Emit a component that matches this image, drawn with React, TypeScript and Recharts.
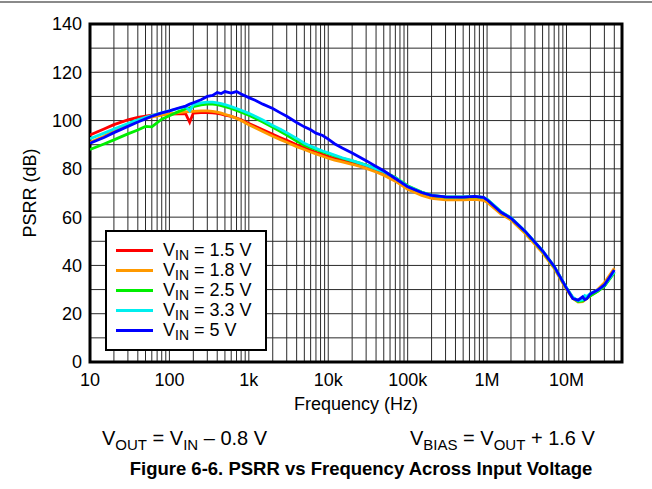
import React from 'react';
import { LineChart, Line, XAxis, YAxis, CartesianGrid, ReferenceArea } from 'recharts';

// frequency points (Hz) shared by every curve
const FREQ = [
  10, 15, 20, 30, 40, 50, 60, 80, 100, 130, 160, 180, 200, 250, 300, 350, 400, 450, 500, 600,
  700, 800, 1000, 1200, 1500, 2000, 2500, 3000, 4000, 5000, 6000, 7000, 8500, 10e3, 12e3, 15e3,
  20e3, 25e3, 30e3, 40e3, 50e3, 70e3, 100e3, 150e3, 200e3, 300e3, 500e3, 700e3, 900e3, 1e6,
  1.5e6, 2e6, 3e6, 5e6, 7e6, 10e6, 12e6, 14e6, 16e6, 17e6, 18e6, 20e6, 25e6, 30e6, 40e6,
];

// PSRR (dB)
const VIN_1V5 = [
  94, 96.5, 98.3, 100.3, 101.3, 101.8, 102.2, 102.5, 102.7, 102.8, 102.9, 99.3, 103.1, 103.3, 103.3, 103.2, 103, 102.7, 102.3, 101.7,
  101, 100.3, 98.8, 97.6, 96.2, 94.3, 92.9, 91.8, 90, 88.7, 87.7, 86.9, 85.9, 85.1, 84.3, 83.5,
  82.5, 81.6, 80.8, 79.3, 78, 75.5, 72.2, 69.6, 68.4, 67.7, 67.8, 68, 67.6, 66.8,
  61.8, 59.3, 53.8, 45.6, 39.2, 30.4, 26.6, 25.3, 25.6, 26.2, 26.5, 27.5, 29.5, 31.6, 37.5,
];
const VIN_1V8 = [
  91, 93.5, 95.8, 98.5, 100, 100.9, 101.5, 102.3, 102.8, 103.3, 103.6, 103.7, 103.8, 104, 104, 103.8, 103.5, 103.1, 102.6, 101.8,
  100.9, 100, 98.3, 97, 95.5, 93.5, 92.1, 91, 89.2, 88, 87, 86.2, 85.2, 84.4, 83.6, 82.9,
  81.9, 81, 80.2, 78.7, 77.4, 74.9, 71.5, 69, 67.8, 67.2, 67.2, 67.4, 67, 66.2,
  61.3, 58.8, 53.3, 45.2, 38.8, 30, 26.3, 24.8, 25, 25.6, 26.2, 27.6, 30.2, 32.8, 38.8,
];
const VIN_2V5 = [
  88, 90.3, 92, 94.5, 96.1, 97.6, 97.4, 100.6, 102, 103.7, 104.8, 105.3, 105.8, 106.5, 106.8, 106.8, 106.6, 106.2, 105.8, 105,
  104.2, 103.5, 102.2, 101, 99.4, 97.2, 95.5, 94, 91.5, 89.8, 88.8, 88, 87, 86.3, 85.4, 84.4,
  83.3, 82.4, 81.6, 80.2, 78.9, 76.4, 73, 70.4, 69, 68.3, 68.3, 68.5, 68.1, 67.3,
  62.2, 59.6, 54.1, 45.9, 39.4, 30.6, 26.6, 25, 25.3, 26, 26.4, 27.4, 29.4, 31.4, 37,
];
const VIN_3V3 = [
  92.5, 94.8, 96.5, 98.8, 100.3, 101.3, 102.1, 103.2, 104, 105, 105.8, 104, 106.6, 107.3, 107.6, 107.6, 107.3, 107, 106.6, 105.8,
  105, 104.3, 103, 101.8, 100.2, 98, 96.4, 95, 92.6, 90.6, 89.4, 88.5, 87.4, 86.6, 85.7, 84.6,
  83.4, 82.4, 81.5, 80, 78.8, 76.3, 72.8, 70.3, 69, 68.4, 68.4, 68.6, 68.2, 67.4,
  62.3, 59.8, 54.3, 46.1, 39.6, 30.8, 26.8, 25.4, 25.8, 27.5, 27.2, 28.4, 29.8, 31.8, 37.4,
];
const VIN_5V = [
  90.6, 93, 95, 97.6, 99.4, 100.7, 101.8, 103.2, 104, 105.2, 106, 106.8, 107.4, 108.6, 110, 110.4, 111.6, 111.2, 112, 111.4,
  112, 111, 109.5, 108.4, 106.8, 105, 103.2, 101.8, 99.2, 97.4, 96.2, 94.8, 93.8, 92.3, 90.4, 88.6,
  86.6, 84.8, 83.4, 81, 79.2, 76, 72.6, 70.2, 69, 68.4, 68.3, 68.6, 68.2, 67.2,
  62, 59.6, 54.2, 46, 39.6, 30.6, 26.3, 25.6, 27, 25.8, 26.2, 28.2, 29.9, 31.9, 38.1,
];

const SERIES = [
  { key: 'v15', label: '1.5 V', color: '#ff0000', values: VIN_1V5 },
  { key: 'v18', label: '1.8 V', color: '#ff9900', values: VIN_1V8 },
  { key: 'v25', label: '2.5 V', color: '#00ee00', values: VIN_2V5 },
  { key: 'v33', label: '3.3 V', color: '#00eeee', values: VIN_3V3 },
  { key: 'v50', label: '5 V', color: '#0000ff', values: VIN_5V },
];

const X_MAJOR = [10, 100, 1e3, 1e4, 1e5, 1e6, 1e7];
const X_MAJOR_LABELS = ['10', '100', '1k', '10k', '100k', '1M', '10M'];
const X_MAX = 5e7;
const Y_TICKS = [0, 10, 20, 30, 40, 50, 60, 70, 80, 90, 100, 110, 120, 130, 140];

// minor log grid: 1..9 of every decade
const xTicks: number[] = [];
X_MAJOR.forEach(d => {
  for (let m = 1; m <= 9; m++) {
    if (m * d <= X_MAX) xTicks.push(m * d);
  }
});

const data = FREQ.map((f, i) => {
  const row: Record<string, number> = { f };
  SERIES.forEach(s => { row[s.key] = s.values[i]; });
  return row;
});

const FONT = '"Liberation Sans", Arial, sans-serif';

const Sub: React.FC<{ children: React.ReactNode; size?: number }> = ({ children, size = 14 }) => (
  <span style={{ fontSize: size, position: 'relative', top: '0.35em' }}>{children}</span>
);

const App: React.FC = () => {
  return (
    <div style={{ position: 'absolute', left: 0, top: 0, width: 652, height: 489, background: '#fff', fontFamily: FONT, color: '#000', overflow: 'hidden' }}>
      <div style={{ position: 'absolute', left: 0, top: 1, width: 652, borderTop: '2px solid #8a8a8a' }} />

      <LineChart
        width={652}
        height={400}
        data={data}
        margin={{ top: 24, right: 30, bottom: 8, left: 0 }}
        style={{ position: 'absolute', left: 0, top: 0 }}
      >
        <CartesianGrid stroke="#2a2a2a" strokeWidth={1} />
        <XAxis
          dataKey="f"
          type="number"
          scale="log"
          domain={[10, X_MAX]}
          ticks={xTicks}
          interval={0}
          allowDataOverflow
          height={30}
          tickLine={false}
          axisLine={false}
          tickSize={0}
          tickMargin={11}
          tick={{ fill: '#000', fontSize: 18, fontFamily: FONT }}
          tickFormatter={(v: number) => {
            const i = X_MAJOR.indexOf(v);
            return i >= 0 ? X_MAJOR_LABELS[i] : '';
          }}
        />
        <YAxis
          type="number"
          domain={[0, 140]}
          ticks={Y_TICKS}
          interval={0}
          width={90}
          tickLine={false}
          axisLine={false}
          tickSize={0}
          tickMargin={8}
          tick={{ fill: '#000', fontSize: 18, fontFamily: FONT }}
          tickFormatter={(v: number) => (v % 20 === 0 ? String(v) : '')}
        />
        {SERIES.map(s => (
          <Line
            key={s.key}
            dataKey={s.key}
            stroke={s.color}
            strokeWidth={2.8}
            dot={false}
            isAnimationActive={false}
          />
        ))}
        <ReferenceArea x1={10} x2={X_MAX} y1={0} y2={140} fill="none" stroke="#000" strokeWidth={3} ifOverflow="visible" />
      </LineChart>

      {/* legend */}
      <div style={{ position: 'absolute', left: 105, top: 230, width: 158, height: 117, border: '2px solid #000', background: '#fff' }}>
        {SERIES.map((s, i) => (
          <div key={s.key} style={{ position: 'absolute', left: 9, top: 8 + i * 20, height: 20, display: 'flex', alignItems: 'center' }}>
            <div style={{ width: 37, height: 3, background: s.color }} />
            <div style={{ marginLeft: 10, fontSize: 18, lineHeight: '20px', whiteSpace: 'nowrap' }}>
              V<Sub>IN</Sub> = {s.label}
            </div>
          </div>
        ))}
      </div>

      {/* y axis title */}
      <div style={{ position: 'absolute', left: 30, top: 193, transform: 'translate(-50%, -50%) rotate(-90deg)', fontSize: 18, whiteSpace: 'nowrap' }}>
        PSRR (dB)
      </div>

      {/* x axis title */}
      <div style={{ position: 'absolute', left: 356, top: 404, transform: 'translate(-50%, -50%)', fontSize: 18, whiteSpace: 'nowrap' }}>
        Frequency (Hz)
      </div>

      <div style={{ position: 'absolute', left: 102, top: 438, transform: 'translateY(-50%)', fontSize: 20, whiteSpace: 'nowrap' }}>
        V<Sub size={15}>OUT</Sub> = V<Sub size={15}>IN</Sub> – 0.8 V
      </div>
      <div style={{ position: 'absolute', left: 410, top: 438, transform: 'translateY(-50%)', fontSize: 20, whiteSpace: 'nowrap' }}>
        V<Sub size={15}>BIAS</Sub> = V<Sub size={15}>OUT</Sub> + 1.6 V
      </div>

      <div style={{ position: 'absolute', left: 361, top: 469, transform: 'translate(-50%, -50%)', fontSize: 18.5, fontWeight: 'bold', whiteSpace: 'nowrap' }}>
        Figure 6-6. PSRR vs Frequency Across Input Voltage
      </div>
    </div>
  );
};

export default App;
